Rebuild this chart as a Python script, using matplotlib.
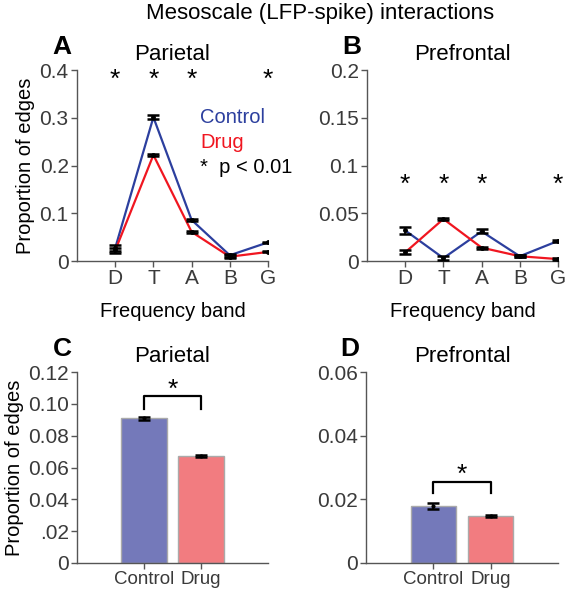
import matplotlib.pyplot as plt
import numpy as np

plt.rcParams['font.family'] = ['Liberation Sans', 'DejaVu Sans']

bands = ['D', 'T', 'A', 'B', 'G']

# panel A - parietal, line plot
par_ctrl = [0.027, 0.301, 0.086, 0.012, 0.039]
par_ctrl_err = [0.006, 0.004, 0.002, 0.003, 0.001]
par_drug = [0.022, 0.222, 0.061, 0.009, 0.019]
par_drug_err = [0.006, 0.002, 0.002, 0.003, 0.001]
par_sig = ['D', 'T', 'A', 'G']

# panel B - prefrontal, line plot
pre_ctrl = [0.032, 0.003, 0.031, 0.005, 0.021]
pre_ctrl_err = [0.004, 0.002, 0.002, 0.001, 0.001]
pre_drug = [0.009, 0.044, 0.014, 0.005, 0.002]
pre_drug_err = [0.002, 0.001, 0.001, 0.001, 0.001]
pre_sig = ['D', 'T', 'A', 'G']

# panels C/D - bars
groups = ['Control', 'Drug']
par_bar = [0.091, 0.067]
par_bar_err = [0.001, 0.0007]
pre_bar = [0.0179, 0.0148]
pre_bar_err = [0.001, 0.0004]

blue = '#2c3f9e'
red = '#f01620'
bar_cols = ['#7479ba', '#f27c80']
axis_col = '#555555'
tick_col = '#3a3a3a'

fs_tick = 15
fs_lab = 14.5
fs_title = 16

fig = plt.figure(figsize=(5.65, 6), dpi=100)
W, H = 565, 600


def add_ax(x0, y0, x1, y1):
    return fig.add_axes([x0 / W, 1 - y1 / H, (x1 - x0) / W, (y1 - y0) / H])


def style(ax):
    for s in ['top', 'right']:
        ax.spines[s].set_visible(False)
    for s in ['left', 'bottom']:
        ax.spines[s].set_color(axis_col)
        ax.spines[s].set_linewidth(1.0)
    ax.tick_params(direction='out', length=4, width=1, color=axis_col,
                   labelsize=fs_tick, labelcolor=tick_col, pad=2)


def line_panel(ax, ctrl, cerr, drug, derr, sig, ymax, yticks, ylabels, sig_y):
    x = np.arange(len(bands))
    ax.plot(x, ctrl, color=blue, lw=1.6, zorder=2)
    ax.plot(x, drug, color=red, lw=1.6, zorder=2)
    for vals, err in [(ctrl, cerr), (drug, derr)]:
        ax.errorbar(x, vals, yerr=err, fmt='none', ecolor='black',
                    elinewidth=1.2, capsize=4, capthick=1.8, zorder=3)
        ax.plot(x, vals, 'o', color='black', ms=2.5, zorder=4)
    for b in sig:
        ax.text(bands.index(b), sig_y, '*', ha='center', va='center',
                fontsize=19)
    ax.set_xlim(-1, 4)
    ax.set_ylim(0, ymax)
    ax.set_xticks(x)
    ax.set_xticklabels(bands)
    ax.set_yticks(yticks)
    ax.set_yticklabels(ylabels)
    ax.set_xlabel('Frequency band', fontsize=fs_lab, labelpad=10)
    style(ax)


def bar_panel(ax, vals, errs, ymax, yticks, ylabels, br_lo, br_hi, star_y):
    x = np.arange(len(groups))
    ax.bar(x, vals, width=0.79, color=bar_cols, edgecolor='#aaaaaa',
           linewidth=1.0, zorder=2)
    ax.errorbar(x, vals, yerr=errs, fmt='none', ecolor='black',
                elinewidth=1.2, capsize=4, capthick=1.8, zorder=3)
    ax.plot(x, vals, 'o', color='black', ms=2.0, zorder=4)
    ax.plot([0, 0, 1, 1], [br_lo, br_hi, br_hi, br_lo], color='black',
            lw=1.6, zorder=3)
    ax.text(0.5, star_y, '*', ha='center', va='center', fontsize=19)
    ax.set_xlim(-1.175, 2.175)
    ax.set_ylim(0, ymax)
    ax.set_xticks(x)
    ax.set_xticklabels(groups)
    ax.set_yticks(yticks)
    ax.set_yticklabels(ylabels)
    style(ax)
    ax.tick_params(axis='x', labelsize=13.5)


axA = add_ax(77, 70, 268, 261)
line_panel(axA, par_ctrl, par_ctrl_err, par_drug, par_drug_err, par_sig,
           0.4, [0, 0.1, 0.2, 0.3, 0.4], ['0', '0.1', '0.2', '0.3', '0.4'],
           0.38)
axA.set_ylabel('Proportion of edges', fontsize=fs_lab, labelpad=3)
axA.set_title('Parietal', fontsize=fs_title, pad=7)
axA.text(0.644, 0.749, 'Control', color=blue, fontsize=fs_lab,
         transform=axA.transAxes, va='center')
axA.text(0.644, 0.618, 'Drug', color=red, fontsize=fs_lab,
         transform=axA.transAxes, va='center')
axA.text(0.644, 0.49, '*  p < 0.01', color='black', fontsize=fs_lab,
         transform=axA.transAxes, va='center')

axB = add_ax(367, 70, 558, 261)
line_panel(axB, pre_ctrl, pre_ctrl_err, pre_drug, pre_drug_err, pre_sig,
           0.2, [0, 0.05, 0.1, 0.15, 0.2], ['0', '0.05', '0.1', '0.15', '0.2'],
           0.08)
axB.set_title('Prefrontal', fontsize=fs_title, pad=7)

axC = add_ax(77, 372, 268, 563)
bar_panel(axC, par_bar, par_bar_err, 0.12,
          [0, 0.02, 0.04, 0.06, 0.08, 0.10, 0.12],
          ['0', '.02', '0.04', '0.06', '0.08', '0.10', '0.12'],
          0.097, 0.105, 0.109)
axC.set_ylabel('Proportion of edges', fontsize=fs_lab, labelpad=3)
axC.set_title('Parietal', fontsize=fs_title, pad=7)

axD = add_ax(366, 372, 558, 563)
bar_panel(axD, pre_bar, pre_bar_err, 0.06,
          [0, 0.02, 0.04, 0.06], ['0', '0.02', '0.04', '0.06'],
          0.022, 0.0254, 0.0276)
axD.set_title('Prefrontal', fontsize=fs_title, pad=7)

# panel letters and main title
for lbl, px, py in [('A', 62, 47), ('B', 352, 47), ('C', 62, 349), ('D', 350, 349)]:
    fig.text(px / W, 1 - py / H, lbl, fontsize=19, fontweight='bold',
             ha='center', va='center')
fig.text(320 / W, 1 - 13 / H, 'Mesoscale (LFP-spike) interactions',
         fontsize=16, ha='center', va='center')

fig.savefig('out.png', dpi=100)
